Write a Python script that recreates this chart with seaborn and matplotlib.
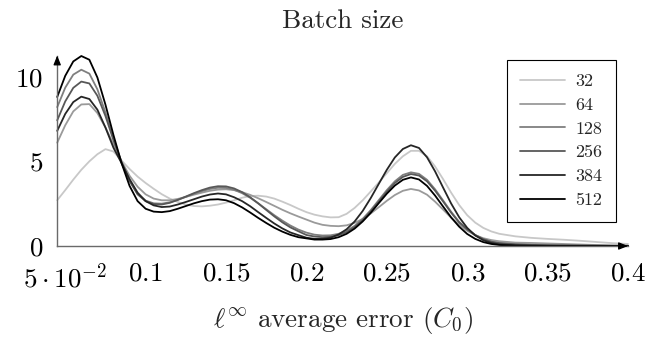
import matplotlib
matplotlib.use("Agg")
import matplotlib.pyplot as plt
import pandas as pd
import seaborn as sns

# Estimated density of the l-infinity average error, one curve per batch size
error_grid = [
    0.045, 0.05, 0.055, 0.06, 0.065, 0.07, 0.075, 0.08, 0.085, 0.09,
    0.095, 0.10, 0.105, 0.11, 0.115, 0.12, 0.125, 0.13, 0.135, 0.14,
    0.145, 0.15, 0.155, 0.16, 0.165, 0.17, 0.175, 0.18, 0.185, 0.19,
    0.195, 0.20, 0.205, 0.21, 0.215, 0.22, 0.225, 0.23, 0.235, 0.24,
    0.245, 0.25, 0.255, 0.26, 0.265, 0.27, 0.275, 0.28, 0.285, 0.29,
    0.295, 0.30, 0.305, 0.31, 0.315, 0.32, 0.33, 0.34, 0.35, 0.36,
    0.37, 0.38, 0.39, 0.40,
]

density_32 = [
    2.70, 3.30, 3.92, 4.50, 5.00, 5.42, 5.72, 5.58, 5.05, 4.55,
    4.10, 3.72, 3.38, 3.06, 2.80, 2.60, 2.45, 2.36, 2.34, 2.38,
    2.45, 2.56, 2.70, 2.85, 2.95, 2.97, 2.92, 2.80, 2.62, 2.42,
    2.20, 2.00, 1.85, 1.75, 1.69, 1.70, 1.90, 2.25, 2.70, 3.22,
    3.75, 4.30, 4.85, 5.30, 5.62, 5.62, 5.30, 4.70, 3.95, 3.15,
    2.42, 1.82, 1.38, 1.07, 0.86, 0.72, 0.57, 0.48, 0.42, 0.37,
    0.31, 0.24, 0.17, 0.12,
]

density_64 = [
    6.10, 7.13, 7.95, 8.36, 8.38, 7.85, 7.00, 6.00, 5.00, 4.15,
    3.50, 3.05, 2.80, 2.70, 2.70, 2.78, 2.90, 3.03, 3.15, 3.26,
    3.33, 3.35, 3.30, 3.18, 3.02, 2.82, 2.60, 2.37, 2.14, 1.93,
    1.74, 1.56, 1.38, 1.25, 1.19, 1.17, 1.22, 1.37, 1.60, 1.92,
    2.29, 2.67, 3.01, 3.26, 3.37, 3.28, 3.03, 2.62, 2.15, 1.67,
    1.25, 0.90, 0.64, 0.46, 0.35, 0.28, 0.20, 0.18, 0.15, 0.12,
    0.09, 0.06, 0.04, 0.02,
]

density_128 = [
    8.20, 9.35, 10.12, 10.41, 10.18, 9.25, 7.89, 6.34, 4.95, 3.85,
    3.08, 2.68, 2.52, 2.50, 2.58, 2.73, 2.90, 3.08, 3.24, 3.37,
    3.44, 3.43, 3.32, 3.12, 2.85, 2.52, 2.17, 1.82, 1.50, 1.21,
    0.97, 0.79, 0.67, 0.62, 0.63, 0.72, 0.90, 1.19, 1.60, 2.12,
    2.71, 3.30, 3.82, 4.20, 4.35, 4.26, 3.91, 3.35, 2.69, 2.02,
    1.42, 1.01, 0.65, 0.41, 0.25, 0.17, 0.10, 0.07, 0.05, 0.04,
    0.03, 0.02, 0.01, 0.01,
]

density_256 = [
    7.42, 8.54, 9.34, 9.71, 9.60, 8.87, 7.68, 6.25, 4.95, 3.85,
    3.05, 2.65, 2.48, 2.45, 2.55, 2.72, 2.92, 3.12, 3.30, 3.45,
    3.53, 3.52, 3.40, 3.18, 2.88, 2.52, 2.13, 1.75, 1.40, 1.10,
    0.87, 0.65, 0.56, 0.52, 0.54, 0.64, 0.82, 1.12, 1.53, 2.05,
    2.63, 3.21, 3.72, 4.08, 4.25, 4.16, 3.82, 3.27, 2.63, 1.97,
    1.39, 0.98, 0.64, 0.40, 0.25, 0.17, 0.10, 0.07, 0.05, 0.04,
    0.03, 0.02, 0.01, 0.01,
]

density_384 = [
    6.80, 7.80, 8.50, 8.82, 8.68, 8.05, 7.00, 5.80, 4.90, 3.95,
    3.15, 2.65, 2.40, 2.30, 2.33, 2.45, 2.60, 2.76, 2.92, 3.04,
    3.10, 3.05, 2.88, 2.65, 2.35, 2.00, 1.66, 1.33, 1.04, 0.80,
    0.64, 0.49, 0.42, 0.42, 0.49, 0.68, 0.99, 1.45, 2.07, 2.83,
    3.67, 4.50, 5.23, 5.73, 5.95, 5.79, 5.24, 4.41, 3.45, 2.51,
    1.70, 1.07, 0.62, 0.34, 0.18, 0.10, 0.04, 0.02, 0.01, 0.00,
    0.00, 0.00, 0.00, 0.00,
]

density_512 = [
    8.80, 10.05, 10.90, 11.22, 11.00, 9.95, 8.35, 6.55, 4.90, 3.55,
    2.65, 2.20, 2.03, 2.00, 2.06, 2.20, 2.36, 2.52, 2.65, 2.74,
    2.76, 2.70, 2.53, 2.28, 1.98, 1.66, 1.36, 1.08, 0.85, 0.66,
    0.52, 0.45, 0.38, 0.38, 0.41, 0.52, 0.72, 1.03, 1.45, 1.96,
    2.53, 3.09, 3.57, 3.91, 4.05, 3.93, 3.55, 2.98, 2.33, 1.69,
    1.14, 0.71, 0.42, 0.23, 0.12, 0.06, 0.02, 0.01, 0.00, 0.00,
    0.00, 0.00, 0.00, 0.00,
]

batch_sizes = ["32", "64", "128", "256", "384", "512"]
line_colors = ["#c8c8c8", "#9a9a9a", "#7f7f7f", "#585858", "#262626", "#000000"]

x_ticks = [0.05, 0.10, 0.15, 0.20, 0.25, 0.30, 0.35, 0.40]
x_tick_labels = [r"$5\cdot10^{-2}$", r"$0.1$", r"$0.15$", r"$0.2$",
                 r"$0.25$", r"$0.3$", r"$0.35$", r"$0.4$"]
y_ticks = [0, 5, 10]
y_tick_labels = [r"$0$", r"$5$", r"$10$"]

sns.set_theme(style="white")
plt.rcParams["font.family"] = ["cmr10", "DejaVu Serif"]
plt.rcParams["mathtext.fontset"] = "cm"
plt.rcParams["axes.unicode_minus"] = False
plt.rcParams["axes.formatter.use_mathtext"] = True

series = [density_32, density_64, density_128, density_256, density_384, density_512]
frames = [
    pd.DataFrame({"error": error_grid, "density": dens, "batch": size})
    for size, dens in zip(batch_sizes, series)
]
df = pd.concat(frames, ignore_index=True)

W, H = 650, 338
fig = plt.figure(figsize=(W / 100, H / 100), dpi=100)
x0, x1 = 57.2, 628.0
y0, y1 = 246.0, 55.5
ax = fig.add_axes([x0 / W, 1 - y0 / H, (x1 - x0) / W, (y0 - y1) / H])

sns.lineplot(
    data=df, x="error", y="density", hue="batch", hue_order=batch_sizes,
    palette=dict(zip(batch_sizes, line_colors)), estimator=None, sort=False,
    linewidth=1.3, ax=ax, legend=True,
)
for line in ax.get_lines():
    line.set_clip_on(False)

ax.set_xlim(0.045, 0.40)
ax.set_ylim(0, 11.25)
ax.set_xticks(x_ticks)
ax.set_xticklabels(x_tick_labels)
ax.set_yticks(y_ticks)
ax.set_yticklabels(y_tick_labels)

for side in ("top", "right"):
    ax.spines[side].set_visible(False)
for side in ("left", "bottom"):
    ax.spines[side].set_color("#6a6a6a")
    ax.spines[side].set_linewidth(1.0)

ax.tick_params(axis="both", direction="inout", length=7.2, width=0.8,
               color="#7a7a7a", labelsize=19.5, labelcolor="black")
ax.tick_params(axis="y", pad=6.5)
ax.tick_params(axis="x", pad=8.0)

# arrow heads at the ends of both axes
arrow = dict(arrowstyle="-|>,head_length=0.55,head_width=0.22", color="black",
             lw=0.9, shrinkA=0, shrinkB=0, mutation_scale=10)
ax.annotate("", xy=(1.0, 0.0), xytext=(0.985, 0.0), xycoords="axes fraction",
            arrowprops=arrow, annotation_clip=False)
ax.annotate("", xy=(0.0, 1.0), xytext=(0.0, 0.97), xycoords="axes fraction",
            arrowprops=arrow, annotation_clip=False)

ax.set_title("Batch size", fontsize=19.5, pad=19.6)
ax.set_xlabel(r"$\ell^{\infty}$ average error $(C_0)$", fontsize=19.5)
ax.xaxis.set_label_coords(0.5, (y0 - 326.7) / (y0 - y1))
ax.xaxis.label.set_va("baseline")
ax.set_ylabel("")

handles, labels = ax.get_legend_handles_labels()
leg = ax.legend(
    handles, labels, loc="upper right",
    bbox_to_anchor=(615.7 / W, 1 - 60 / H), bbox_transform=fig.transFigure,
    frameon=True, fancybox=False, shadow=False, framealpha=1,
    edgecolor="black", fontsize=13, handlelength=2.5, handletextpad=0.55,
    labelspacing=0.45, borderpad=0.75, borderaxespad=0,
)
leg.get_frame().set_linewidth(0.8)
for h in leg.get_lines():
    h.set_linewidth(1.3)

fig.savefig("out.png", dpi=100, facecolor="white")
